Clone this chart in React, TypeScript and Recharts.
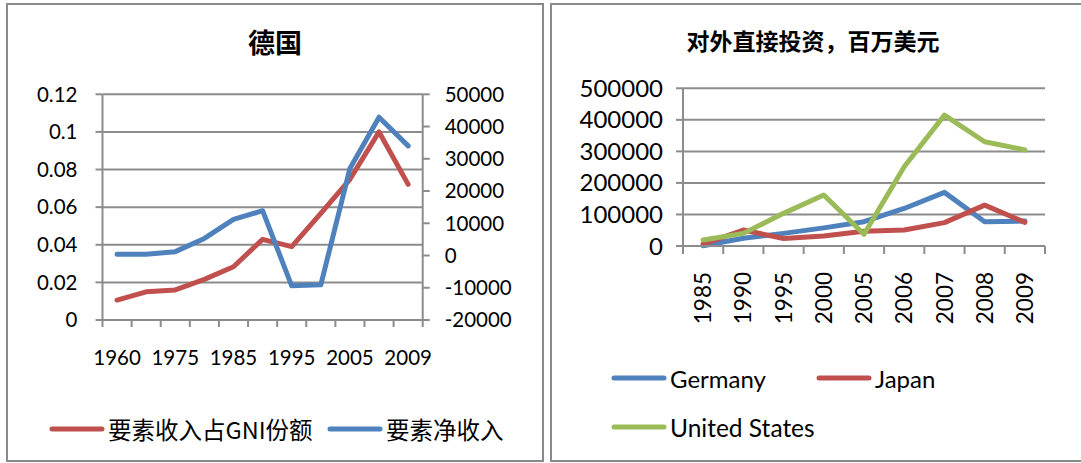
import { CartesianGrid, Line, LineChart, XAxis, YAxis } from "recharts";

// 德国：要素收入占GNI份额（左轴）与要素净收入（右轴）
const germanyYears = ["1960", "1970", "1975", "1980", "1985", "1990", "1995", "2000", "2005", "2007", "2009"];
const factorIncomeShare = [0.0106, 0.015, 0.016, 0.0216, 0.0283, 0.0429, 0.039, 0.0567, 0.0748, 0.1, 0.0721];
const netFactorIncome = [400, 400, 1200, 5300, 11200, 13900, -9400, -9100, 27000, 42900, 34000];
const shareTicks = [0, 0.02, 0.04, 0.06, 0.08, 0.1, 0.12];
const incomeTicks = [-20000, -10000, 0, 10000, 20000, 30000, 40000, 50000];

// 对外直接投资，百万美元
const fdiYears = ["1985", "1990", "1995", "2000", "2005", "2006", "2007", "2008", "2009"];
const fdiGermany = [1000, 24400, 40000, 57500, 77000, 119000, 170000, 77000, 79000];
const fdiJapan = [6000, 50500, 24000, 31500, 47000, 50500, 74000, 129500, 75000];
const fdiUnitedStates = [19000, 40000, 103500, 161500, 37000, 251500, 415000, 330500, 304500];
const fdiTicks = [0, 100000, 200000, 300000, 400000, 500000];

const RED = "#C0504D";
const BLUE = "#4F81BD";
const GREEN = "#9BBB59";
const GRID = "#8c8c8c";
const FONT = "Lato, 'Noto Sans', sans-serif";
const CJK = "'Noto Sans CJK SC', sans-serif";

const leftRows = germanyYears.map((year, i) => ({
  year,
  share: factorIncomeShare[i],
  net: netFactorIncome[i],
}));

const rightRows = fdiYears.map((year, i) => ({
  year,
  germany: fdiGermany[i],
  japan: fdiJapan[i],
  us: fdiUnitedStates[i],
}));

const LEFT_W = 545;
const LEFT_MARGIN = { top: 94.3, right: 42.3, bottom: 93, left: 42.5 };
const LEFT_BAND = (LEFT_W - 42.5 - 42.3 - 60 - 80) / germanyYears.length;

const RIGHT_W = 536;
const RIGHT_MARGIN = { top: 88.3, right: 36, bottom: 127, left: 38 };
const RIGHT_BAND = (RIGHT_W - 38 - 36 - 100) / fdiYears.length;

function GermanyTick(props: any) {
  const { x, y, payload } = props;
  const index = props.index ?? payload.index;
  const half = LEFT_BAND / 2;
  return (
    <g>
      <line x1={x - half} x2={x - half} y1={y} y2={y + 7} stroke={GRID} strokeWidth={2} />
      {index === germanyYears.length - 1 && (
        <line x1={x + half} x2={x + half} y1={y} y2={y + 7} stroke={GRID} strokeWidth={2} />
      )}
      {index % 2 === 0 && (
        <text x={x} y={y + 45} textAnchor="middle" fill="#000" fontSize={20.5} fontFamily={FONT}>
          {payload.value}
        </text>
      )}
    </g>
  );
}

function FdiTick(props: any) {
  const { x, y, payload } = props;
  const index = props.index ?? payload.index;
  const half = RIGHT_BAND / 2;
  return (
    <g>
      <line x1={x - half} x2={x - half} y1={y} y2={y + 8} stroke={GRID} strokeWidth={2} />
      {index === fdiYears.length - 1 && (
        <line x1={x + half} x2={x + half} y1={y} y2={y + 8} stroke={GRID} strokeWidth={2} />
      )}
      <text
        x={x}
        y={y + 26}
        dy="0.36em"
        transform={`rotate(-90, ${x}, ${y + 26})`}
        textAnchor="end"
        fill="#000"
        fontSize={22.5}
        fontFamily={FONT}
      >
        {payload.value}
      </text>
    </g>
  );
}

function LegendKey({ left, top, color, label, font, size }: any) {
  return (
    <div style={{ position: "absolute", left, top: top - 16, height: 32, display: "flex", alignItems: "center" }}>
      <svg width={56} height={10} style={{ display: "block" }}>
        <line x1={3} x2={53} y1={5} y2={5} stroke={color} strokeWidth={5} strokeLinecap="round" />
      </svg>
      <span style={{ fontFamily: font, fontSize: size, color: "#000", marginLeft: 3, whiteSpace: "nowrap" }}>{label}</span>
    </div>
  );
}

export default function App() {
  return (
    <div style={{ position: "fixed", left: 0, top: 0, width: 1081, height: 463, background: "#fff", overflow: "hidden" }}>
      <div style={{ position: "absolute", left: 6, top: 3, width: 534, height: 455, border: "2px solid #8a8a8a" }} />
      <div
        style={{
          position: "absolute",
          left: 550,
          top: 3,
          width: 560,
          height: 455,
          borderLeft: "2px solid #8a8a8a",
          borderTop: "2px solid #8a8a8a",
          borderBottom: "2px solid #8a8a8a",
        }}
      />

      <div style={{ position: "absolute", left: 0, top: 25, width: 550, textAlign: "center", fontFamily: CJK, fontWeight: 700, fontSize: 27, lineHeight: "34px" }}>
        德国
      </div>
      <div style={{ position: "absolute", left: 683, top: 24, width: 260, textAlign: "center", fontFamily: CJK, fontWeight: 700, fontSize: 23, lineHeight: "32px", whiteSpace: "nowrap" }}>
        对外直接投资，百万美元
      </div>

      <div style={{ position: "absolute", left: 0, top: 0 }}>
        <LineChart width={LEFT_W} height={463} data={leftRows} margin={LEFT_MARGIN}>
          <CartesianGrid vertical={false} stroke={GRID} strokeWidth={2} yAxisId="share" />
          <XAxis
            dataKey="year"
            height={50}
            interval={0}
            padding={{ left: LEFT_BAND / 2, right: LEFT_BAND / 2 }}
            tickSize={0}
            tickMargin={0}
            tickLine={false}
            axisLine={{ stroke: GRID, strokeWidth: 2 }}
            tick={<GermanyTick />}
          />
          <YAxis
            yAxisId="share"
            width={60}
            domain={[0, 0.12]}
            ticks={shareTicks}
            interval={0}
            tickSize={7}
            tickMargin={18}
            axisLine={{ stroke: GRID, strokeWidth: 2 }}
            tickLine={{ stroke: GRID, strokeWidth: 2 }}
            tick={{ fill: "#000", fontSize: 20.5, fontFamily: FONT }}
          />
          <YAxis
            yAxisId="net"
            orientation="right"
            width={80}
            domain={[-20000, 50000]}
            ticks={incomeTicks}
            interval={0}
            tickSize={7}
            tickMargin={15}
            axisLine={{ stroke: GRID, strokeWidth: 2 }}
            tickLine={{ stroke: GRID, strokeWidth: 2 }}
            tick={{ fill: "#000", fontSize: 20.5, fontFamily: FONT, textAnchor: "start" }}
          />
          <Line yAxisId="share" type="linear" dataKey="share" stroke={RED} strokeWidth={5} dot={false} strokeLinecap="round" strokeLinejoin="round" isAnimationActive={false} />
          <Line yAxisId="net" type="linear" dataKey="net" stroke={BLUE} strokeWidth={5} dot={false} strokeLinecap="round" strokeLinejoin="round" isAnimationActive={false} />
        </LineChart>
      </div>

      <div style={{ position: "absolute", left: 545, top: 0 }}>
        <LineChart width={RIGHT_W} height={463} data={rightRows} margin={RIGHT_MARGIN}>
          <CartesianGrid vertical={false} stroke={GRID} strokeWidth={2} />
          <XAxis
            dataKey="year"
            height={90}
            interval={0}
            padding={{ left: RIGHT_BAND / 2, right: RIGHT_BAND / 2 }}
            tickSize={0}
            tickMargin={0}
            tickLine={false}
            axisLine={{ stroke: GRID, strokeWidth: 2 }}
            tick={<FdiTick />}
          />
          <YAxis
            width={100}
            domain={[0, 500000]}
            ticks={fdiTicks}
            interval={0}
            tickSize={7}
            tickMargin={13}
            axisLine={{ stroke: GRID, strokeWidth: 2 }}
            tickLine={{ stroke: GRID, strokeWidth: 2 }}
            tick={{ fill: "#000", fontSize: 24, fontFamily: FONT }}
          />
          <Line type="linear" dataKey="germany" stroke={BLUE} strokeWidth={5} dot={false} strokeLinecap="round" strokeLinejoin="round" isAnimationActive={false} />
          <Line type="linear" dataKey="japan" stroke={RED} strokeWidth={5} dot={false} strokeLinecap="round" strokeLinejoin="round" isAnimationActive={false} />
          <Line type="linear" dataKey="us" stroke={GREEN} strokeWidth={5} dot={false} strokeLinecap="round" strokeLinejoin="round" isAnimationActive={false} />
        </LineChart>
      </div>

      <LegendKey left={49} top={429} color={RED} label="要素收入占GNI份额" font={CJK} size={23.5} />
      <LegendKey left={327} top={429} color={BLUE} label="要素净收入" font={CJK} size={23.5} />
      <LegendKey left={611} top={378} color={BLUE} label="Germany" font={FONT} size={24} />
      <LegendKey left={816} top={378} color={RED} label="Japan" font={FONT} size={24} />
      <LegendKey left={611} top={427} color={GREEN} label="United States" font={FONT} size={24.5} />
    </div>
  );
}
